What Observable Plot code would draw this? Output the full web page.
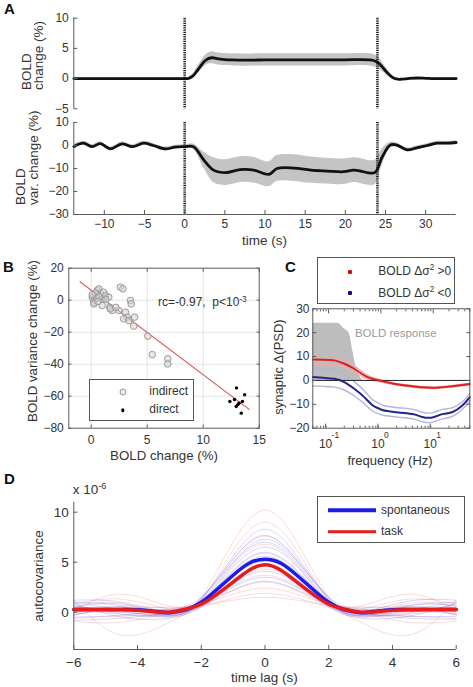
<!DOCTYPE html>
<html>
<head>
<meta charset="utf-8">
<script src="https://cdn.jsdelivr.net/npm/d3@7"></script>
<script src="https://cdn.jsdelivr.net/npm/@observablehq/plot@0.6"></script>
<style>
  body { margin: 0; background: #fff; }
  #fig { position: relative; width: 473px; height: 687px; overflow: hidden; background: #fff;
         font-family: "Liberation Sans", Arial, Helvetica, sans-serif; color: #333; }
  .txt { position: absolute; left: 0; top: 0; transform-origin: 0 0; white-space: nowrap; line-height: 1.1; }
  .txt sup { font-size: 0.68em; vertical-align: 0; position: relative; top: -0.55em; }
  .legend { position: absolute; border: 1px solid #555; background: #fff; box-sizing: border-box; }
  .legend .mk { position: absolute; transform: translate(-50%, -50%); box-sizing: border-box; }
</style>
</head>
<body>
<div id="fig"></div>
<script>
// ---------- Panel A: stimulus block from 0 s to 24 s ----------
const stimEdges = [0, 24];
const timeDomain = [-13.8, 33.8];
const timeTicks = [-10, -5, 0, 5, 10, 15, 20, 25, 30];

// mean BOLD change (%) and its error band
const boldT    = [-13.8, -10, -5, -2, 0, 0.5, 1, 1.5, 2, 2.5, 3, 3.5, 4, 5, 6, 8, 10, 12, 14, 16, 18, 20, 22, 23, 23.5, 24, 24.5, 25, 25.5, 26, 26.5, 27, 28, 29, 30, 31, 32, 33.8];
const boldMean = [0, 0, 0, 0, 0, 0.05, 0.4, 1.2, 2.1, 2.9, 3.35, 3.45, 3.3, 3.15, 3.1, 3.05, 3.1, 3.1, 3.1, 3.1, 3.1, 3.1, 3.15, 3.1, 3.0, 2.7, 2.1, 1.3, 0.6, 0.1, -0.1, -0.1, 0.05, 0.1, 0.05, 0, 0, 0];
const boldSE   = [0.1, 0.1, 0.1, 0.1, 0.1, 0.15, 0.3, 0.5, 0.7, 0.85, 0.95, 1.0, 1.0, 1.0, 1.0, 1.0, 1.0, 1.0, 1.0, 1.0, 1.0, 1.0, 1.0, 1.0, 1.0, 0.95, 0.8, 0.6, 0.4, 0.25, 0.15, 0.1, 0.1, 0.1, 0.1, 0.1, 0.1, 0.1];
const boldTicks = [-5, 0, 5, 10];

// mean BOLD variance change (%) and its error band
const varT    = [-13.8, -12.6, -11.5, -10.5, -9.25, -7.8, -6.5, -5.1, -3.9, -2.4, -1.2, 0, 1.1, 2.4, 3.6, 5.1, 6.9, 8.6, 10.5, 11.5, 13.6, 15.7, 17.7, 19.8, 21, 21.9, 22.7, 23.7, 24.6, 25.6, 26.4, 27.7, 28.9, 30.2, 31.4, 32.7, 33.8];
const varMean = [-0.5, 1.0, -0.5, 0.8, -1.5, 0.7, -0.5, 1.0, 0, -1.5, -0.7, -0.5, -0.5, -6.4, -10.7, -11.8, -10.5, -10.7, -12.5, -10, -9.8, -10.7, -11.1, -11.4, -10.7, -11.1, -11.8, -11.7, -4.9, 0.2, 0.2, -1.9, -1.0, 0, 1.0, 1.0, 1.3];
const varSE   = [0.8, 0.8, 0.8, 0.8, 0.8, 0.8, 0.8, 0.8, 0.8, 0.8, 0.8, 0.8, 1.2, 3.5, 5.4, 5.6, 5.6, 5.6, 5.4, 5.6, 5.8, 5.7, 5.6, 5.6, 5.4, 5.4, 5.4, 5.3, 3.5, 1.2, 0.9, 0.8, 0.8, 0.8, 0.8, 0.8, 0.8];
const varDomain = [-30, 10];
const varTicks = [-30, -20, -10, 0, 10];

// ---------- Panel B: variance change vs. BOLD change per region ----------
const indirectX = [0.09, 0.23, 0.38, 0.54, 0.68, 0.83, 0.98, 1.1, 1.28, 1.57, 0.23, 0.98, 1.66, 1.88, 2.46, 2.6, 2.83, 3.06, 3.2, 3.5, 3.57, 2.9, 3.36, 3.87, 3.8, 5.05, 5.45, 6.84, 6.84, 0.23, 0.5, 0.4, 0.7, 1.7, 0.1, 0.6, 1.3, 2.2];
const indirectY = [1.9, -0.2, 2.9, 6.1, 7.1, 4.0, 0.9, 5.0, 2.9, 1.9, -1.4, -3.3, -4.4, -6.4, -6.4, 8.1, 7.1, -7.5, -10.6, -0.2, -2.3, -11.6, -12.7, -10.6, -16.2, -22.5, -34, -36.6, -39.8, -2.3, 1.0, 4.5, 2.0, -5.4, 3.5, -0.8, 0.5, -4.5];
const directX = [12.97, 13.7, 12.38, 12.8, 13.5, 13.1, 12.95, 13.4, 13.2];
const directY = [-54.8, -59.1, -63.3, -62.1, -63.3, -65.2, -66.4, -70.6, -64.4];
const fitX = [-1.0, 14.1];
const fitY = [11.5, -68.2];
const bXDomain = [-2, 15], bYDomain = [-80, 20];
const bXTicks = [0, 5, 10, 15], bYTicks = [-80, -60, -40, -20, 0, 20];

// ---------- Panel C: synaptic PSD change by frequency ----------
const cFreq  = [0.05, 0.08, 0.129, 0.2, 0.31, 0.48, 0.7, 0.93, 1.1, 1.79, 2.7, 4.3, 6.2, 9.2, 12.7, 16, 23.5, 36, 50];
const redMean  = [8.8, 8.7, 8.4, 7.0, 4.9, 2.1, 0.6, 0, -0.4, -1.4, -2.0, -2.5, -2.9, -3.1, -3.0, -2.8, -2.4, -1.9, -1.5];
const redSE    = [1.8, 1.8, 1.7, 1.5, 1.2, 0.9, 0.6, 0.4, 0.4, 0.3, 0.3, 0.3, 0.3, 0.3, 0.3, 0.3, 0.3, 0.3, 0.3];
const blueMean = [1.4, 1.1, 0.7, -0.7, -3.5, -7, -10.5, -11.8, -12.5, -13.2, -13.6, -14.2, -15.3, -15.6, -14.6, -14.0, -13.2, -10.5, -7];
const blueSE   = [3.7, 3.6, 3.5, 3.3, 3.0, 2.7, 2.4, 2.2, 2.1, 2.0, 2.0, 2.0, 2.0, 2.0, 2.0, 2.0, 1.8, 1.6, 1.5];
const respFreq = [0.05, 0.1, 0.15, 0.2, 0.25, 0.29, 0.33, 0.39, 0.45];
const respTop  = [24, 24, 24, 21.6, 19.5, 12.5, 6.3, 2.1, 0];
const cDomainX = [0.05, 50], cDomainY = [-20, 30];
const cDecades = [0.1, 1, 10], cExponents = ["-1", "0", "1"];
const cMinor = [0.05, 0.06, 0.07, 0.08, 0.09, 0.2, 0.3, 0.4, 0.5, 0.6, 0.7, 0.8, 0.9, 2, 3, 4, 5, 6, 7, 8, 9, 20, 30, 40, 50];
const cYTicks = [-20, -10, 0, 10, 20, 30];
const cNote = {f: 1.93, v: 19.8, text: "BOLD response"};

// ---------- Panel D: autocovariance (x 10^-6) vs. time lag ----------
const lags = [-6, -5.5, -5, -4.5, -4, -3.5, -3, -2.5, -2, -1.5, -1, -0.5, 0, 0.5, 1, 1.5, 2, 2.5, 3, 3.5, 4, 4.5, 5, 5.5, 6];
const spontaneous = [0.27, 0.27, 0.27, 0.27, 0.25, 0.1, -0.05, 0.25, 1.0, 2.3, 3.7, 4.9, 5.3, 4.9, 3.7, 2.3, 1.0, 0.25, -0.05, 0.1, 0.25, 0.27, 0.27, 0.27, 0.27];
const task        = [0.27, 0.27, 0.26, 0.24, 0.2, 0.05, 0.0, 0.3, 0.8, 1.8, 3.0, 4.2, 4.75, 4.2, 3.0, 1.8, 0.8, 0.3, 0.0, 0.05, 0.2, 0.24, 0.26, 0.27, 0.27];
const subjLags = [-6, -4.5, -3, -2, -1, 0, 1, 2, 3, 4.5, 6];
const spontSubjects = [
  [1.0, 0.6, -0.4, 1.3, 5.6, 8.3, 5.6, 1.3, -0.4, 0.6, 1.0],
  [0.5, 0.8, -0.2, 1.4, 5.3, 7.7, 5.2, 1.5, -0.2, 0.7, 0.6],
  [-0.5, -0.3, 0.2, 1.2, 4.9, 7.0, 4.9, 1.2, 0.1, -0.4, -0.4],
  [1.2, 1.0, 0.0, 1.0, 4.5, 6.5, 4.6, 1.0, 0.0, 1.1, 1.2],
  [0.2, 0.0, -0.3, 0.9, 4.2, 6.0, 4.2, 0.9, -0.3, 0.1, 0.3],
  [-0.3, 0.4, 0.1, 1.1, 4.0, 5.6, 4.0, 1.1, 0.0, 0.4, -0.2],
  [0.7, -0.2, -0.4, 0.8, 3.6, 5.1, 3.7, 0.8, -0.4, -0.1, 0.8],
  [0.0, 0.3, 0.2, 0.9, 3.3, 4.6, 3.3, 0.9, 0.2, 0.3, 0.1],
  [-0.8, -0.6, -0.1, 0.7, 2.9, 4.1, 2.9, 0.7, -0.1, -0.6, -0.7],
  [0.4, 0.5, 0.0, 0.6, 2.5, 3.5, 2.5, 0.6, 0.0, 0.5, 0.4],
  [0.9, -0.5, -0.6, 0.5, 2.2, 3.1, 2.2, 0.5, -0.6, -0.4, 0.9],
  [-0.2, 0.2, 0.3, 1.5, 5.0, 7.3, 5.1, 1.5, 0.3, 0.2, -0.2]
];
const taskSubjects = [
  [0.6, 0.9, -0.3, 1.5, 7.0, 10.2, 7.0, 1.5, -0.3, 0.9, 0.6],
  [1.2, -2.3, -1.0, 1.2, 6.2, 9.0, 6.2, 1.2, -1.0, -2.3, 1.2],
  [0.0, 0.5, 0.2, 1.3, 5.3, 7.6, 5.3, 1.3, 0.2, 0.5, 0.0],
  [-0.6, -0.4, -0.2, 1.0, 4.7, 6.8, 4.7, 1.0, -0.2, -0.4, -0.6],
  [0.8, 1.3, 0.3, 1.0, 4.1, 5.9, 4.1, 1.0, 0.3, 1.3, 0.8],
  [0.3, -0.2, -0.3, 0.9, 3.6, 5.2, 3.6, 0.9, -0.3, -0.2, 0.3],
  [-0.3, 0.6, 0.4, 1.0, 3.1, 4.3, 3.1, 1.0, 0.4, 0.6, -0.3],
  [1.0, 0.2, -0.5, 0.6, 2.6, 3.7, 2.6, 0.6, -0.5, 0.2, 1.0],
  [0.2, 1.8, 0.6, 0.9, 2.2, 3.0, 2.2, 0.9, 0.6, 1.8, 0.2],
  [-0.9, -1.0, 0.0, 0.8, 1.8, 2.4, 1.8, 0.8, 0.0, -1.0, -0.9],
  [0.5, 0.0, -0.2, 0.5, 1.4, 1.9, 1.4, 0.5, -0.2, 0.0, 0.5],
  [0.0, 0.4, 0.5, 0.7, 1.2, 1.5, 1.2, 0.7, 0.5, 0.4, 0.0]
];
const dDomainX = [-6, 6], dDomainY = [-3.73, 11];
const dXTicks = [-6, -4, -2, 0, 2, 4, 6], dYTicks = [0, 5, 10];

// ---------- colours ----------
const BLUE = "#1c1ce6", RED = "#e61c1c";
const C_RED = "#dc2020", C_BLUE = "#23238f";
const AXIS = "#5a5a5a";

// ---------- helpers ----------
const font = '"Liberation Sans", Arial, Helvetica, sans-serif';
const fig = document.getElementById("fig");

function mount(svg, left, top) {
  svg.style.position = "absolute";
  svg.style.left = left + "px";
  svg.style.top = top + "px";
  fig.appendChild(svg);
}
function style(size) {
  return {fontFamily: font, fontSize: size + "px", color: "#333", background: "transparent", overflow: "visible"};
}
function put(html, x, y, {anchor = "start", size = 13, weight = "normal", color = "#333", rotate = false} = {}) {
  const el = document.createElement("div");
  el.className = "txt";
  el.innerHTML = html;
  el.style.fontSize = size + "px";
  el.style.fontWeight = weight;
  el.style.color = color;
  const ax = anchor === "start" ? "0" : anchor === "middle" ? "-50%" : "-100%";
  el.style.transform = `translate(${x}px, ${y}px)` + (rotate ? " rotate(-90deg)" : "") + ` translate(${ax}, -50%)`;
  fig.appendChild(el);
}
function legend(left, top, width, height, items, size) {
  const box = document.createElement("div");
  box.className = "legend";
  Object.assign(box.style, {left: left + "px", top: top + "px", width: width + "px", height: height + "px", fontSize: size + "px", color: "#333"});
  for (const it of items) {
    const mk = document.createElement("div");
    mk.className = "mk";
    Object.assign(mk.style, {left: it.mx + "px", top: it.y + "px"}, it.marker);
    box.appendChild(mk);
    const t = document.createElement("div");
    t.className = "txt";
    t.style.transform = `translate(${it.tx}px, ${it.y}px) translateY(-50%)`;
    t.innerHTML = it.label;
    box.appendChild(t);
  }
  fig.appendChild(box);
}

// ---------- Panel A, top: BOLD change ----------
const boldRows = boldT.map((t, i) => ({t, m: boldMean[i], lo: boldMean[i] - boldSE[i], hi: boldMean[i] + boldSE[i]}));
mount(Plot.plot({
  width: 473, height: 115,
  marginLeft: 73.3, marginRight: 17.3, marginTop: 17.7, marginBottom: 6.7,
  style: style(12),
  x: {domain: timeDomain, axis: null}, y: {domain: [-5, 10]},
  marks: [
    Plot.areaY(boldRows, {x: "t", y1: "lo", y2: "hi", fill: "#c4c4c4", curve: "catmull-rom"}),
    Plot.ruleX(stimEdges, {stroke: "#1a1a1a", strokeWidth: 2.6, strokeDasharray: "1,0.8"}),
    Plot.lineY(boldRows, {x: "t", y: "m", stroke: "#111", strokeWidth: 2.8, curve: "catmull-rom"}),
    Plot.ruleX([timeDomain[0]], {stroke: AXIS}),
    Plot.axisY({ticks: boldTicks, tickSize: -4, tickPadding: 9, label: null, stroke: AXIS})
  ]
}), 0, 0);

// ---------- Panel A, bottom: BOLD variance change ----------
const varRows = varT.map((t, i) => ({t, m: varMean[i], lo: varMean[i] - varSE[i], hi: varMean[i] + varSE[i]}));
mount(Plot.plot({
  width: 473, height: 135,
  marginLeft: 73.3, marginRight: 17.3, marginTop: 7, marginBottom: 36,
  style: style(12),
  x: {domain: timeDomain}, y: {domain: varDomain},
  marks: [
    Plot.areaY(varRows, {x: "t", y1: "lo", y2: "hi", fill: "#c4c4c4", curve: "catmull-rom"}),
    Plot.ruleX(stimEdges, {stroke: "#1a1a1a", strokeWidth: 2.6, strokeDasharray: "1,0.8"}),
    Plot.lineY(varRows, {x: "t", y: "m", stroke: "#111", strokeWidth: 2.8, curve: "catmull-rom"}),
    Plot.ruleX([timeDomain[0]], {stroke: AXIS}),
    Plot.ruleY([varDomain[0]], {stroke: AXIS}),
    Plot.axisY({ticks: varTicks, tickSize: -4, tickPadding: 9, label: null, stroke: AXIS}),
    Plot.axisX({ticks: timeTicks, tickSize: -4, tickPadding: 9, label: null, stroke: AXIS})
  ]
}), 0, 115);

// ---------- Panel B: scatter ----------
const indirect = indirectX.map((x, i) => ({x, y: indirectY[i]}));
const direct = directX.map((x, i) => ({x, y: directY[i]}));
const fit = fitX.map((x, i) => ({x, y: fitY[i]}));
mount(Plot.plot({
  width: 262, height: 195,
  marginLeft: 68.3, marginRight: 3.3, marginTop: 12.7, marginBottom: 22.3,
  style: style(12),
  x: {domain: bXDomain}, y: {domain: bYDomain},
  marks: [
    Plot.ruleX(bXTicks.slice(0, -1), {stroke: "#e4e4e4"}),
    Plot.ruleY(bYTicks.slice(1, -1), {stroke: "#e4e4e4"}),
    Plot.line(fit, {x: "x", y: "y", stroke: "#dd5555", strokeWidth: 1.1}),
    Plot.dot(indirect, {x: "x", y: "y", r: 3.3, fill: "#d4d4d4", fillOpacity: 0.55, stroke: "#9a9a9a", strokeWidth: 1}),
    Plot.dot(direct, {x: "x", y: "y", r: 1.7, fill: "#000", stroke: "none"}),
    Plot.frame({stroke: AXIS}),
    Plot.axisX({ticks: bXTicks, tickSize: -3, tickPadding: 10, label: null, stroke: AXIS}),
    Plot.axisX({anchor: "top", ticks: bXTicks, tickSize: -3, tickFormat: () => null, label: null, stroke: AXIS}),
    Plot.axisY({ticks: bYTicks, tickSize: -3, tickPadding: 8, label: null, stroke: AXIS}),
    Plot.axisY({anchor: "right", ticks: bYTicks, tickSize: -3, tickFormat: () => null, label: null, stroke: AXIS})
  ]
}), 0, 255);

// ---------- Panel C: synaptic PSD change ----------
const redRows = cFreq.map((f, i) => ({f, m: redMean[i], lo: redMean[i] - redSE[i], hi: redMean[i] + redSE[i]}));
const blueRows = cFreq.map((f, i) => ({f, m: blueMean[i], lo: blueMean[i] - blueSE[i], hi: blueMean[i] + blueSE[i]}));
const respRows = respFreq.map((f, i) => ({f, top: respTop[i]}));
mount(Plot.plot({
  width: 211, height: 220,
  marginLeft: 50.3, marginRight: 3.7, marginTop: 58.3, marginBottom: 42.3,
  style: style(12),
  x: {type: "log", domain: cDomainX}, y: {domain: cDomainY},
  marks: [
    Plot.areaY(respRows, {x: "f", y1: 0, y2: "top", fill: "#bdbdbd", curve: "monotone-x"}),
    Plot.lineY(redRows, {x: "f", y: "hi", stroke: "#f2a8a8", strokeWidth: 1.4, curve: "natural"}),
    Plot.lineY(redRows, {x: "f", y: "lo", stroke: "#f2a8a8", strokeWidth: 1.4, curve: "natural"}),
    Plot.lineY(blueRows, {x: "f", y: "hi", stroke: "#b4b4dc", strokeWidth: 1.4, curve: "natural"}),
    Plot.lineY(blueRows, {x: "f", y: "lo", stroke: "#b4b4dc", strokeWidth: 1.4, curve: "natural"}),
    Plot.ruleY([0], {stroke: "#222", strokeWidth: 1}),
    Plot.lineY(redRows, {x: "f", y: "m", stroke: C_RED, strokeWidth: 2, curve: "natural"}),
    Plot.lineY(blueRows, {x: "f", y: "m", stroke: C_BLUE, strokeWidth: 2, curve: "natural"}),
    Plot.text([cNote], {x: "f", y: "v", text: "text", fill: "#9a9a9a", fontSize: 11.5}),
    Plot.frame({stroke: AXIS}),
    Plot.axisX({ticks: cDecades, tickSize: -4, tickPadding: 15, dx: -3, tickFormat: () => "10", label: null, stroke: AXIS}),
    Plot.text(cDecades, {x: d => d, text: (d, i) => cExponents[i], frameAnchor: "bottom", dy: 10, dx: 3, textAnchor: "start", fontSize: 8.5, fill: "#333"}),
    Plot.axisX({ticks: cMinor, tickSize: -2, tickFormat: () => null, label: null, stroke: AXIS}),
    Plot.axisX({anchor: "top", ticks: cDecades, tickSize: -4, tickFormat: () => null, label: null, stroke: AXIS}),
    Plot.axisX({anchor: "top", ticks: cMinor, tickSize: -2, tickFormat: () => null, label: null, stroke: AXIS}),
    Plot.axisY({ticks: cYTicks, tickSize: -4, tickPadding: 7.3, label: null, stroke: AXIS}),
    Plot.axisY({anchor: "right", ticks: cYTicks, tickSize: -4, tickFormat: () => null, label: null, stroke: AXIS})
  ]
}), 262, 250);

// ---------- Panel D: autocovariance ----------
const subjRows = (set, tag) => set.flatMap((vals, k) => vals.map((v, j) => ({lag: subjLags[j], v, id: tag + k})));
const spontRows = subjRows(spontSubjects, "s");
const taskRows = subjRows(taskSubjects, "t");
const meanRows = (vals) => lags.map((lag, i) => ({lag, v: vals[i]}));
mount(Plot.plot({
  width: 473, height: 187,
  marginLeft: 73.3, marginRight: 17.3, marginTop: 1.7, marginBottom: 38,
  style: style(13.5),
  x: {domain: dDomainX}, y: {domain: dDomainY},
  marks: [
    Plot.line(taskRows, {x: "lag", y: "v", z: "id", stroke: RED, strokeOpacity: 0.16, strokeWidth: 1, curve: "natural"}),
    Plot.line(spontRows, {x: "lag", y: "v", z: "id", stroke: BLUE, strokeOpacity: 0.18, strokeWidth: 1, curve: "natural"}),
    Plot.line(meanRows(spontaneous), {x: "lag", y: "v", stroke: BLUE, strokeWidth: 3.5, curve: "natural"}),
    Plot.line(meanRows(task), {x: "lag", y: "v", stroke: RED, strokeWidth: 3.5, curve: "natural"}),
    Plot.ruleX([dDomainX[0]], {stroke: AXIS}),
    Plot.ruleY([dDomainY[0]], {stroke: AXIS}),
    Plot.axisX({ticks: dXTicks, tickSize: -4, tickPadding: 11.5, label: null, stroke: AXIS}),
    Plot.axisY({ticks: dYTicks, tickSize: -4, tickPadding: 9, label: null, stroke: AXIS})
  ]
}), 0, 500);

// ---------- labels ----------
put("A", 4, 9, {size: 15, weight: "bold", color: "#111"});
put("BOLD", 27, 90, {rotate: true, size: 13.5});
put("change (%)", 39.5, 90, {rotate: true, size: 13.5});
put("BOLD", 21, 205, {rotate: true, size: 13.5});
put("var. change (%)", 34, 205, {rotate: true, size: 13.5});
put("time (s)", 264.5, 241.7, {anchor: "middle", size: 13.5});

put("B", 3, 267.7, {size: 15, weight: "bold", color: "#111"});
put("BOLD variance change (%)", 33.3, 341, {rotate: true, anchor: "middle", size: 13.3});
put("BOLD change (%)", 164, 456.7, {anchor: "middle", size: 13.3});
put("rc=-0.97,&nbsp; p&lt;10<sup>-3</sup>", 158, 303, {size: 12});

put("C", 285, 267.7, {size: 15, weight: "bold", color: "#111"});
put("synaptic &Delta;(PSD)", 279.3, 367, {rotate: true, anchor: "middle", size: 13});
put("frequency (Hz)", 390, 461, {anchor: "middle", size: 13});

put("D", 4, 479.3, {size: 15, weight: "bold", color: "#111"});
put("x 10<sup>-6</sup>", 72.7, 490.5, {size: 13.5});
put("autocovariance", 39.3, 576, {rotate: true, anchor: "middle", size: 13.5});
put("time lag (s)", 264.3, 678.5, {anchor: "middle", size: 13.5});

// ---------- legends ----------
legend(89.3, 379.3, 105, 41.7, [
  {mx: 32.4, tx: 59, y: 11.4, label: "indirect",
   marker: {width: "7px", height: "7px", borderRadius: "50%", border: "1px solid #9a9a9a", background: "rgba(212,212,212,0.55)"}},
  {mx: 32.4, tx: 59, y: 30, label: "direct",
   marker: {width: "3.4px", height: "3.4px", borderRadius: "50%", background: "#000"}}
], 12);
legend(317.3, 256.7, 137.7, 47.3, [
  {mx: 32, tx: 60, y: 14, label: "BOLD &Delta;&sigma;<sup>2</sup> &gt;0",
   marker: {width: "4px", height: "4px", background: "#cc1010", borderRadius: "1px"}},
  {mx: 32, tx: 60, y: 35.6, label: "BOLD &Delta;&sigma;<sup>2</sup> &lt;0",
   marker: {width: "4px", height: "4px", background: "#101080", borderRadius: "1px"}}
], 12);
legend(316.7, 496, 148.3, 47.3, [
  {mx: 34, tx: 63.3, y: 13.3, label: "spontaneous",
   marker: {width: "48px", height: "3.5px", background: BLUE}},
  {mx: 34, tx: 63.3, y: 34.7, label: "task",
   marker: {width: "48px", height: "3.5px", background: RED}}
], 12);
</script>
</body>
</html>
